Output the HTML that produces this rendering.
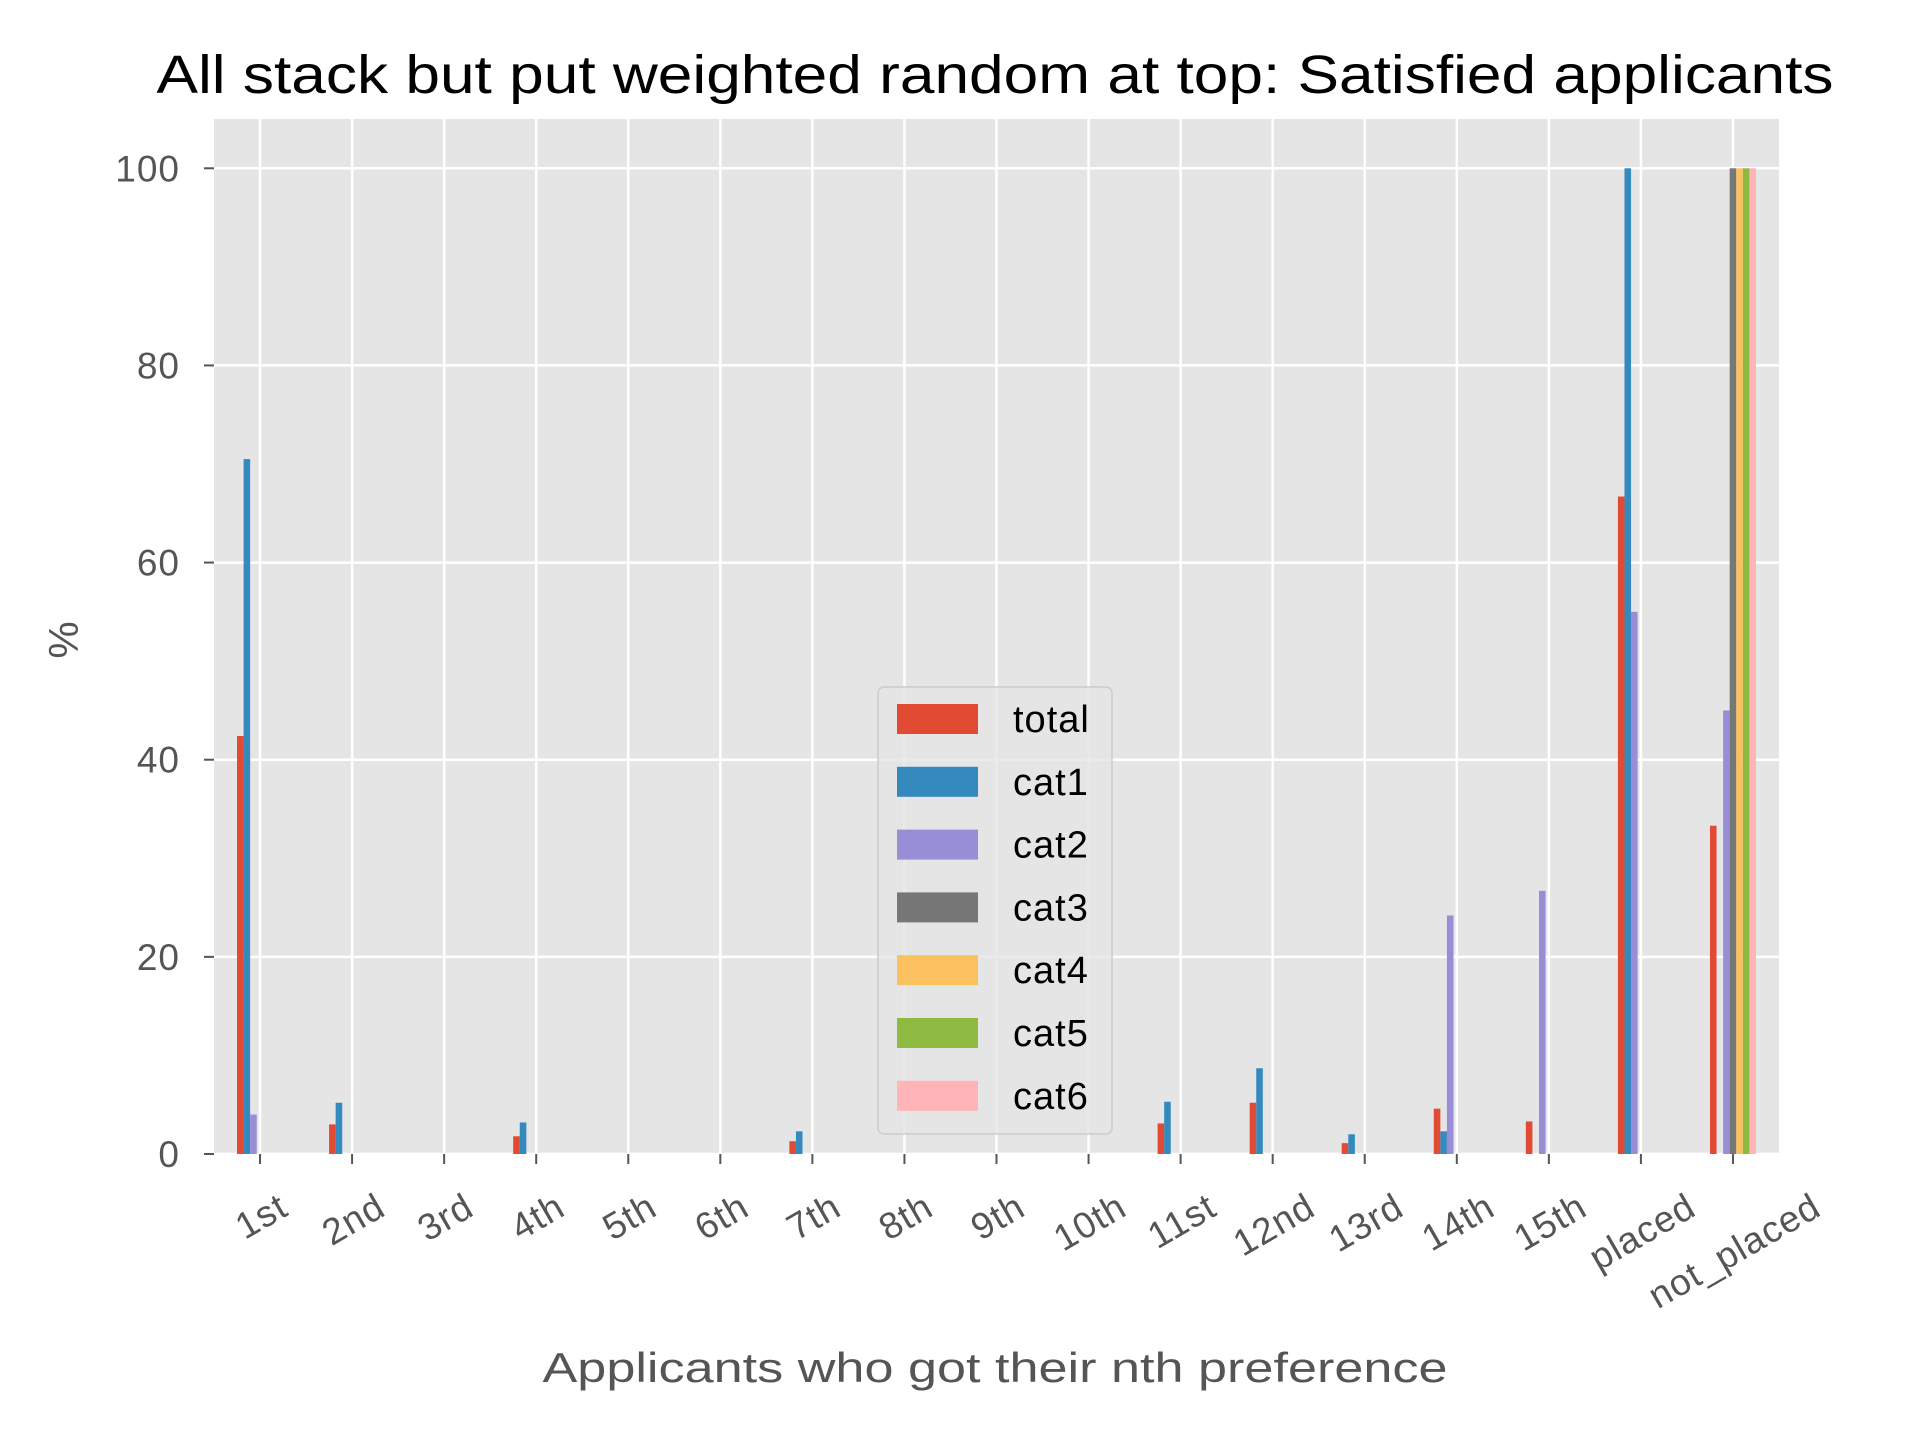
<!DOCTYPE html>
<html><head><meta charset="utf-8"><style>
html,body{margin:0;padding:0;background:#fff;}
svg{display:block;font-family:"Liberation Sans",sans-serif;}
</style></head><body>
<svg id="chart" width="1920" height="1440" viewBox="0 0 1920 1440" xmlns="http://www.w3.org/2000/svg">
<rect x="214" y="119" width="1565" height="1035" fill="#e5e5e5"/>
<g id="grid"></g><g id="bars"></g><g id="axes"></g>
<text x="995" y="93" font-size="54" text-anchor="middle" fill="#000" textLength="1677" lengthAdjust="spacingAndGlyphs">All stack but put weighted random at top: Satisfied applicants</text>
<text x="995" y="1382" font-size="42" text-anchor="middle" fill="#555" textLength="905" lengthAdjust="spacingAndGlyphs">Applicants who got their nth preference</text>
<text x="0" y="0" font-size="42" text-anchor="middle" fill="#555" transform="translate(78,640) rotate(-90)">%</text>
<g id="legend"></g>
</svg>
<script>
const categories=["1st","2nd","3rd","4th","5th","6th","7th","8th","9th","10th","11st","12nd","13rd","14th","15th","placed","not_placed"];
const seriesNames=["total","cat1","cat2","cat3","cat4","cat5","cat6"];
const total=[42.4,3.0,0,1.8,0,0,1.3,0,0,0,3.1,5.2,1.1,4.6,3.3,66.7,33.3];
const cat1=[70.5,5.2,0,3.2,0,0,2.3,0,0,0,5.3,8.7,2.0,2.3,0,100,0];
const cat2=[4.0,0,0,0,0,0,0,0,0,0,0,0,0,24.2,26.7,55,45];
const cat3=[0,0,0,0,0,0,0,0,0,0,0,0,0,0,0,0,100];
const cat4=[0,0,0,0,0,0,0,0,0,0,0,0,0,0,0,0,100];
const cat5=[0,0,0,0,0,0,0,0,0,0,0,0,0,0,0,0,100];
const cat6=[0,0,0,0,0,0,0,0,0,0,0,0,0,0,0,0,100];
const yTicks=[0,20,40,60,80,100];
const colors=["#E24A33","#348ABD","#988ED5","#777777","#FBC15E","#8EBA42","#FFB5B8"];
const series=[total,cat1,cat2,cat3,cat4,cat5,cat6];
const NS="http://www.w3.org/2000/svg";
const L=214,R=1779,T=119,B=1154;
const xMin=-0.5,xMax=16.5,yMax=105;
const xs=v=>L+(v-xMin)/(xMax-xMin)*(R-L);
const ys=v=>B-v/yMax*(B-T);
function mk(tag,attrs,parent){const e=document.createElementNS(NS,tag);for(const k in attrs)e.setAttribute(k,attrs[k]);parent.appendChild(e);return e;}
const grid=document.getElementById('grid'),bars=document.getElementById('bars'),axes=document.getElementById('axes'),leg=document.getElementById('legend');
yTicks.forEach(t=>{
 const g=mk('line',{x1:L,x2:R,y1:ys(t),y2:ys(t),stroke:'#fff','stroke-width':2.5},grid);
 
 
 const tk=mk('line',{x1:L-10,x2:L,y1:ys(t),y2:ys(t),stroke:'#555','stroke-width':2},axes);
 
 
 const tx=mk('text',{x:L-34,y:ys(t)+13,'font-size':37,'text-anchor':'end',fill:'#555','letter-spacing':1},axes);
 tx.textContent=t;
 
 
});
categories.forEach((c,i)=>{
 const x=xs(i);
 const g=mk('line',{x1:x,x2:x,y1:T,y2:B,stroke:'#fff','stroke-width':2.5},grid);
 
 
 const tk=mk('line',{x1:x,x2:x,y1:B,y2:B+10,stroke:'#555','stroke-width':2},axes);
 
 
 const tx=mk('text',{x:0,y:0,'font-size':37,'text-anchor':'middle',fill:'#555','letter-spacing':1},axes);
 tx.textContent=c;
 
 
 const len=tx.getComputedTextLength();
 const h=30;
 const cy=B+34+len*0.25+h*0.433;
 tx.setAttribute('transform',`translate(${x},${cy}) rotate(-30) translate(0,${h/2})`);
});
const w=0.5/7;
series.forEach((vals,s)=>{
 vals.forEach((v,i)=>{
  if(v<=0)return;
  const x0=xs(i+(s-3.5)*w),x1=xs(i+(s-2.5)*w);
  const r=mk('rect',{x:x0,y:ys(v),width:x1-x0,height:B-ys(v),fill:colors[s]},bars);
  
  
 });
});
const box=mk('rect',{x:878,y:687,width:234,height:447,rx:6,fill:'#e5e5e5',stroke:'#ccc','stroke-width':1.5,'fill-opacity':0.8},leg);


seriesNames.forEach((n,s)=>{
 const y=719+s*62.8;
 const p=mk('rect',{x:897,y:y-15,width:81,height:30,fill:colors[s]},leg);
 
 
 const t=mk('text',{x:1013,y:y+13,'font-size':38,fill:'#000','letter-spacing':1},leg);
 t.textContent=n;
 
 
});
</script>
</body></html>
